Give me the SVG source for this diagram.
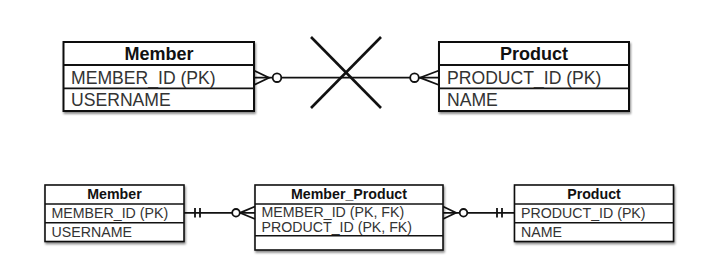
<svg xmlns="http://www.w3.org/2000/svg" width="709" height="278" viewBox="0 0 709 278">
<defs>
<filter id="sh" x="-10%" y="-10%" width="130%" height="140%">
<feDropShadow dx="1" dy="2" stdDeviation="1.2" flood-color="#000" flood-opacity="0.45"/>
</filter>
</defs>
<style>
.box{fill:#fff;stroke:#111;stroke-width:2;filter:url(#sh)}
.sbox{fill:#fff;stroke:#111;stroke-width:1.6;filter:url(#sh)}
.sep{stroke:#111;stroke-width:1.8}
.ssep{stroke:#111;stroke-width:1.5}
.ln{stroke:#111;stroke-width:1.8;fill:none}
.cir{fill:#fff;stroke:#111;stroke-width:1.8}
.hd{font-family:"Liberation Sans",Arial,sans-serif;font-weight:bold;font-size:18px;fill:#111;text-anchor:middle}
.at{font-family:"Liberation Sans",Arial,sans-serif;font-size:17.6px;fill:#333}
.shd{font-family:"Liberation Sans",Arial,sans-serif;font-weight:bold;font-size:14.2px;fill:#111;text-anchor:middle}
.sat{font-family:"Liberation Sans",Arial,sans-serif;font-size:14.2px;fill:#333}
</style>
<g id="connectors">
<line class="ln" x1="254" y1="77.7" x2="439" y2="77.7"/>
<polyline class="ln" points="254,70.5 269,77.7 254,85"/>
<circle class="cir" cx="277" cy="77.7" r="4.3"/>
<polyline class="ln" points="439,70.5 420,77.7 439,85"/>
<circle class="cir" cx="414.5" cy="77.7" r="4.3"/>
<line x1="311" y1="37" x2="381" y2="108" stroke="#111" stroke-width="2.6"/>
<line x1="311" y1="108" x2="381" y2="37" stroke="#111" stroke-width="2.6"/>
<line class="ln" x1="184" y1="212.8" x2="255" y2="212.8"/>
<line class="ln" x1="195" y1="208" x2="195" y2="217.5"/>
<line class="ln" x1="200" y1="208" x2="200" y2="217.5"/>
<polyline class="ln" points="255,206.5 240,212.8 255,219"/>
<circle class="cir" cx="236" cy="212.8" r="3.8"/>
<line class="ln" x1="443" y1="212.8" x2="514" y2="212.8"/>
<polyline class="ln" points="443,206.5 456,212.8 443,219"/>
<circle class="cir" cx="463.5" cy="212.8" r="3.8"/>
<line class="ln" x1="497" y1="208" x2="497" y2="217.5"/>
<line class="ln" x1="502" y1="208" x2="502" y2="217.5"/>
</g>
<g id="member-top">
<rect class="box" x="63.5" y="42" width="190.5" height="69"/>
<line class="sep" x1="63.5" y1="65" x2="254" y2="65"/>
<line class="sep" x1="63.5" y1="88.3" x2="254" y2="88.3"/>
<text class="hd" x="159" y="59.5">Member</text>
<text class="at" x="71" y="83.5">MEMBER_ID (PK)</text>
<text class="at" x="71" y="106">USERNAME</text>
</g>
<g id="product-top">
<rect class="box" x="439" y="42" width="190" height="69"/>
<line class="sep" x1="439" y1="65" x2="629" y2="65"/>
<line class="sep" x1="439" y1="88.3" x2="629" y2="88.3"/>
<text class="hd" x="534" y="59.5">Product</text>
<text class="at" x="447" y="83.5">PRODUCT_ID (PK)</text>
<text class="at" x="447" y="106">NAME</text>
</g>
<g id="member-bottom">
<rect class="sbox" x="45" y="185" width="139" height="56.5"/>
<line class="ssep" x1="45" y1="204" x2="184" y2="204"/>
<line class="ssep" x1="45" y1="222.7" x2="184" y2="222.7"/>
<text class="shd" x="114.5" y="198.5">Member</text>
<text class="sat" x="51.5" y="217.5">MEMBER_ID (PK)</text>
<text class="sat" x="51.5" y="236.8">USERNAME</text>
</g>
<g id="member-product">
<rect class="sbox" x="255" y="185" width="188" height="65"/>
<line class="ssep" x1="255" y1="204" x2="443" y2="204"/>
<line class="ssep" x1="255" y1="235.7" x2="443" y2="235.7"/>
<text class="shd" x="349" y="198.5">Member_Product</text>
<text class="sat" x="261.5" y="217">MEMBER_ID (PK, FK)</text>
<text class="sat" x="261.5" y="231.8">PRODUCT_ID (PK, FK)</text>
</g>
<g id="product-bottom">
<rect class="sbox" x="514.5" y="185" width="159" height="56.5"/>
<line class="ssep" x1="514.5" y1="204" x2="673.5" y2="204"/>
<line class="ssep" x1="514.5" y1="222.7" x2="673.5" y2="222.7"/>
<text class="shd" x="594" y="198.5">Product</text>
<text class="sat" x="521" y="217.5">PRODUCT_ID (PK)</text>
<text class="sat" x="521" y="236.8">NAME</text>
</g>
</svg>
